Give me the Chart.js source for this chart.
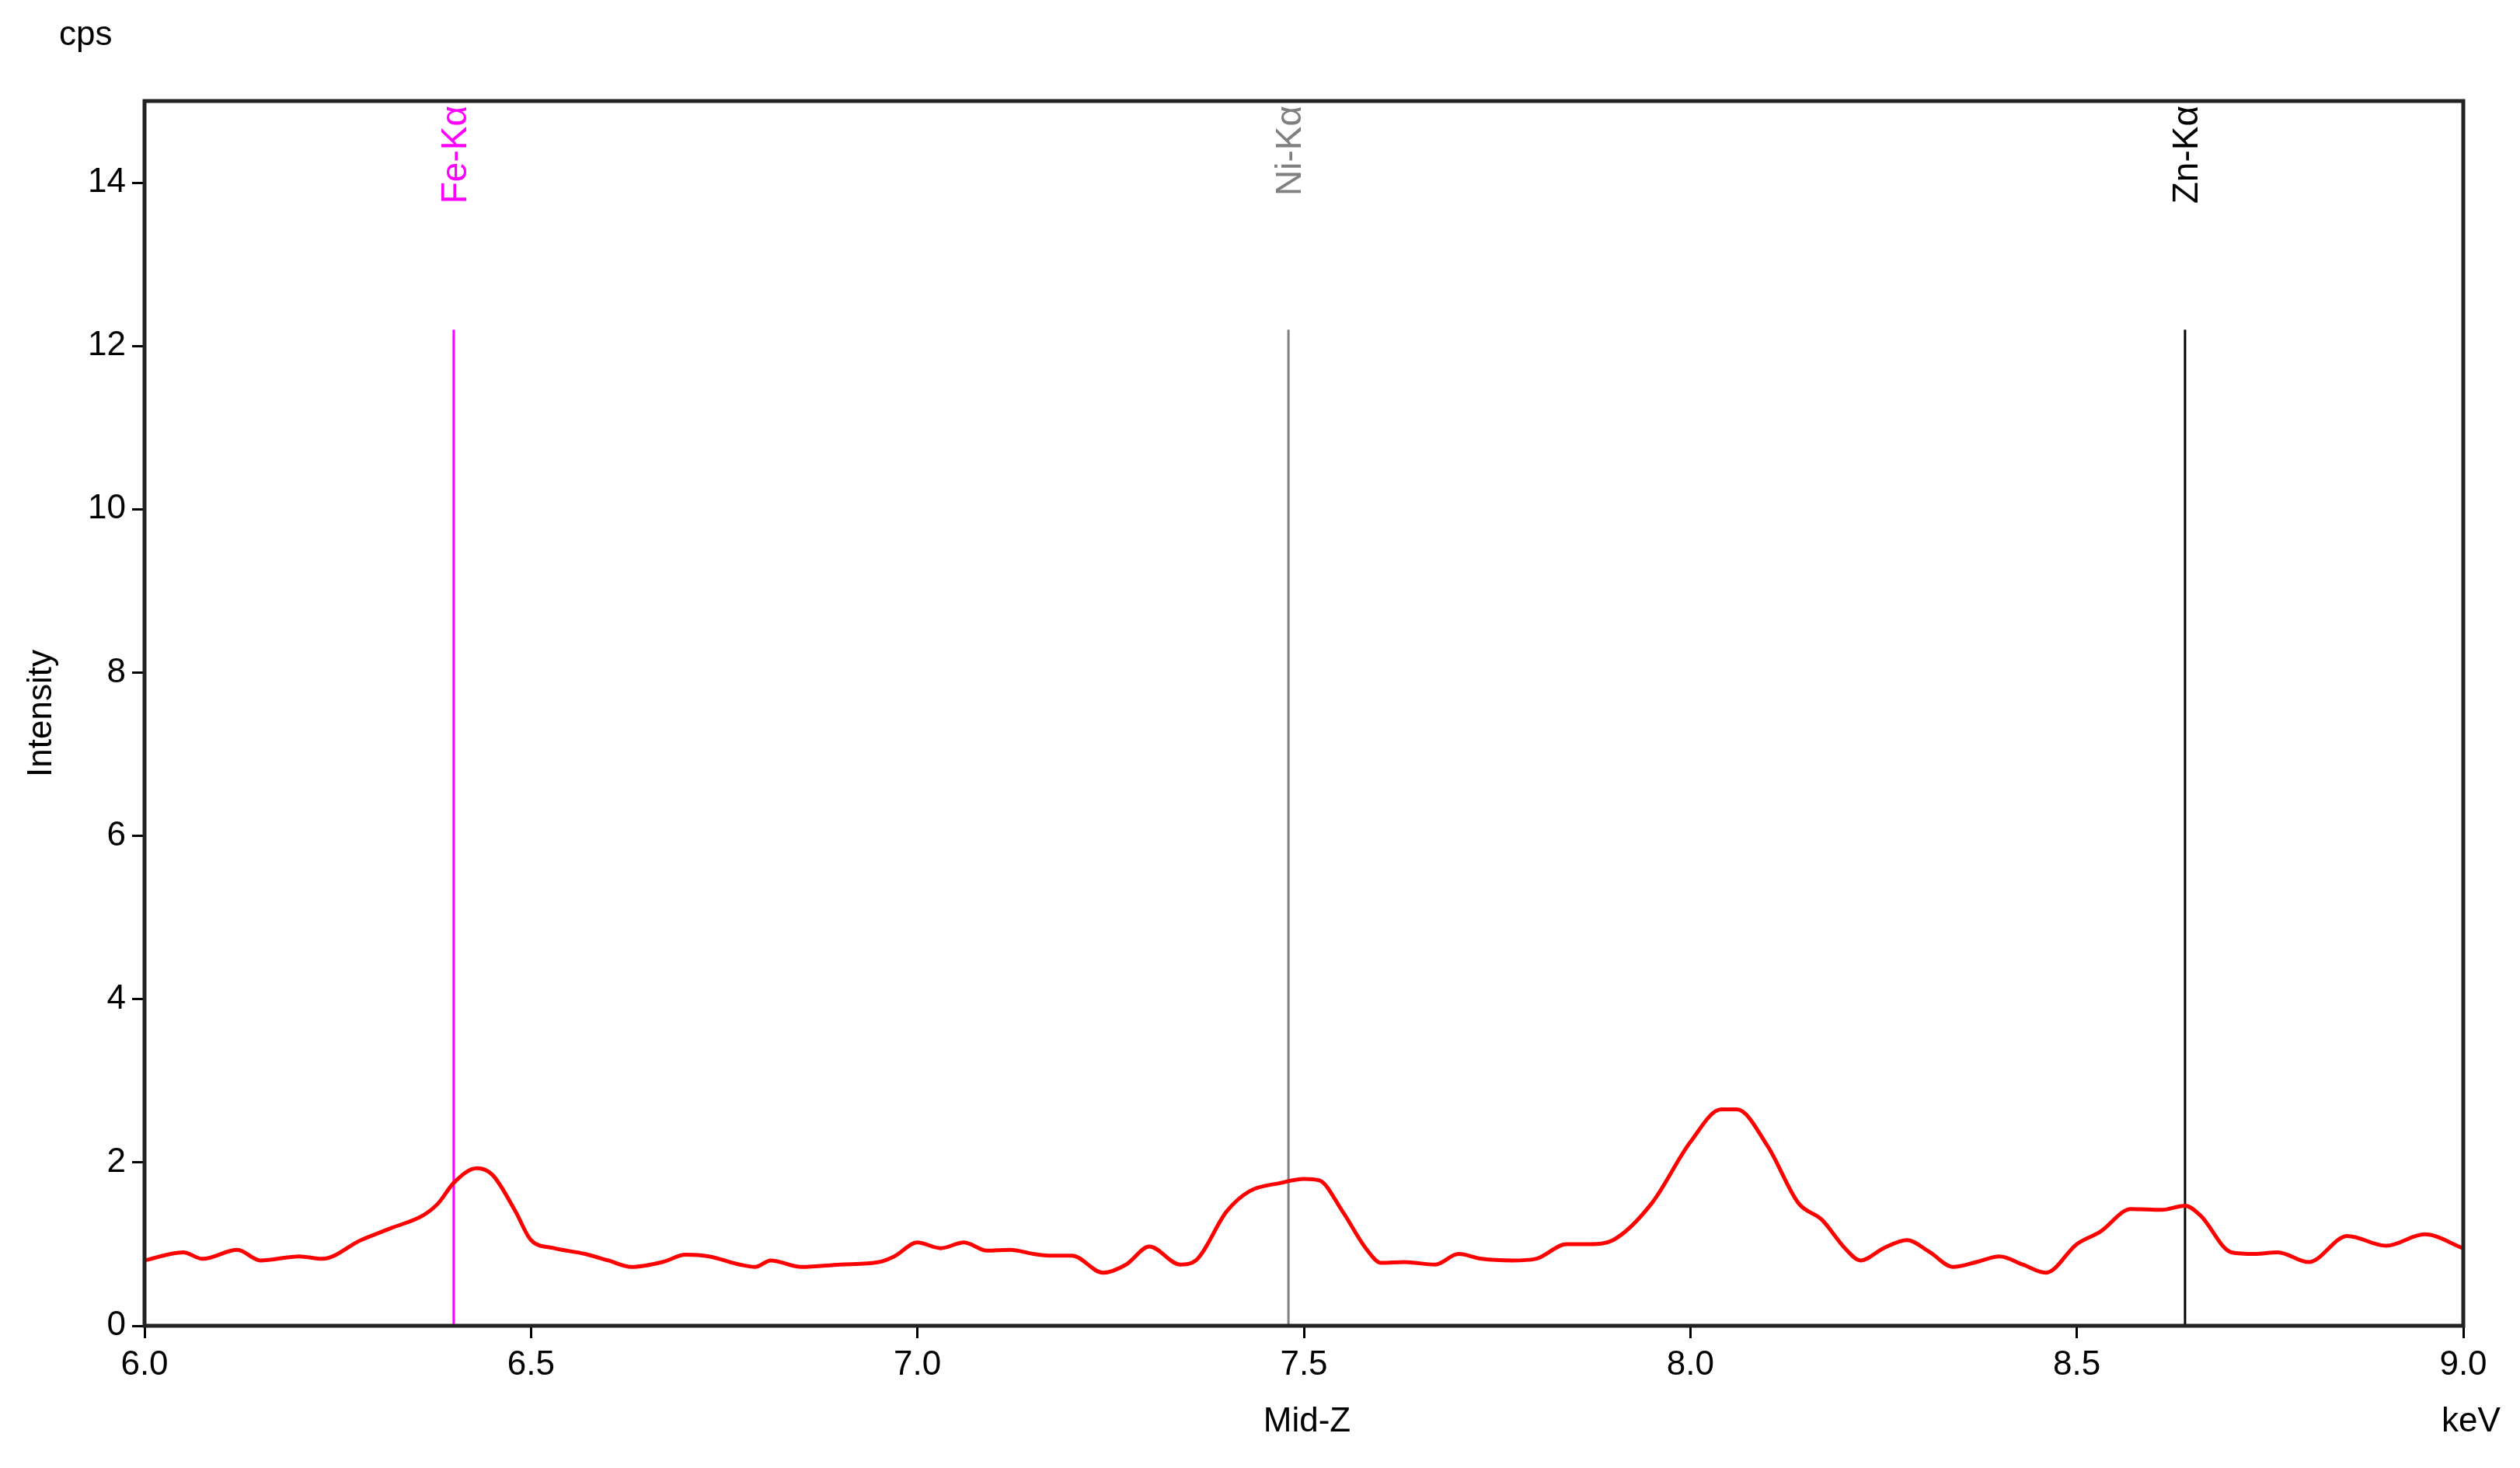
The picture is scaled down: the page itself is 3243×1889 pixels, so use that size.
<!DOCTYPE html>
<html>
<head>
<meta charset="utf-8">
<script src="https://cdn.jsdelivr.net/npm/chart.js@4"></script>
<style>
  body { margin: 0; background: #fff; }
  #wrap { width: 3243px; height: 1889px; }
</style>
</head>
<body>
<div id="wrap"><canvas id="spectrum"></canvas></div>
<script>
const energy = [6.00,6.05,6.075,6.12,6.15,6.20,6.23,6.28,6.32,6.36,6.38,6.40,6.43,6.45,6.48,6.50,6.53,6.57,6.60,6.63,6.67,6.70,6.73,6.77,6.79,6.81,6.85,6.90,6.95,6.97,7.00,7.03,7.06,7.09,7.12,7.15,7.17,7.20,7.24,7.27,7.30,7.34,7.36,7.40,7.43,7.47,7.50,7.52,7.55,7.58,7.60,7.63,7.67,7.70,7.73,7.77,7.80,7.84,7.87,7.90,7.95,8.00,8.04,8.06,8.10,8.14,8.17,8.20,8.22,8.25,8.28,8.31,8.34,8.37,8.40,8.43,8.46,8.50,8.53,8.57,8.61,8.64,8.66,8.70,8.73,8.76,8.80,8.85,8.90,8.95,9.00];
const counts = [0.80,0.90,0.82,0.93,0.80,0.85,0.82,1.05,1.20,1.35,1.50,1.75,1.93,1.85,1.40,1.05,0.95,0.88,0.80,0.72,0.78,0.87,0.85,0.75,0.72,0.80,0.72,0.75,0.78,0.85,1.02,0.95,1.02,0.92,0.93,0.88,0.86,0.86,0.65,0.75,0.97,0.75,0.80,1.40,1.65,1.75,1.80,1.78,1.40,0.95,0.77,0.78,0.75,0.88,0.82,0.80,0.82,1.00,1.00,1.05,1.50,2.25,2.65,2.65,2.20,1.50,1.30,0.95,0.80,0.95,1.05,0.90,0.72,0.78,0.85,0.75,0.65,1.00,1.15,1.43,1.42,1.47,1.35,0.90,0.88,0.90,0.78,1.10,0.98,1.12,0.95];

const lineNames = ['Fe-K\u03b1', 'Ni-K\u03b1', 'Zn-K\u03b1'];
const lineEnergies = [6.40, 7.48, 8.64];
const lineColors = ['#ff00ff', '#808080', '#000000'];
const lineTop = 12.2;

const xTicks = [6.0, 6.5, 7.0, 7.5, 8.0, 8.5, 9.0];
const yTicks = [0, 2, 4, 6, 8, 10, 12, 14];

const FONT = 'Liberation Sans, Arial, sans-serif';

const markerSets = lineEnergies.map((e, i) => ({
    label: lineNames[i],
    data: [{x: e, y: 0}, {x: e, y: lineTop}],
    borderColor: lineColors[i],
    borderWidth: 3,
    pointRadius: 0,
    tension: 0
}));

const decorations = {
    id: 'decorations',
    afterDatasetsDraw(chart) {
        const ctx = chart.ctx;
        const a = chart.chartArea;
        const x = chart.scales.x;
        ctx.save();
        ctx.strokeStyle = '#222';
        ctx.lineWidth = 5;
        ctx.strokeRect(a.left, a.top, a.right - a.left, a.bottom - a.top);
        ctx.font = '46px ' + FONT;
        lineEnergies.forEach((e, i) => {
            ctx.save();
            ctx.translate(x.getPixelForValue(e) + 16, a.top + 6);
            ctx.rotate(-Math.PI / 2);
            ctx.fillStyle = lineColors[i];
            ctx.textAlign = 'right';
            ctx.textBaseline = 'alphabetic';
            ctx.fillText(lineNames[i], 0, 0);
            ctx.restore();
        });
        ctx.font = '44px ' + FONT;
        ctx.fillStyle = '#000';
        ctx.textAlign = 'left';
        ctx.textBaseline = 'top';
        ctx.fillText('cps', 76, 24);
        ctx.textAlign = 'center';
        ctx.fillText('Mid-Z', (a.left + a.right) / 2 + 4, 1808);
        ctx.fillText('keV', 3180, 1808);
        ctx.save();
        ctx.translate(54, (a.top + a.bottom) / 2 + 0);
        ctx.rotate(-Math.PI / 2);
        ctx.textBaseline = 'middle';
        ctx.fillText('Intensity', 0, 0);
        ctx.restore();
        ctx.restore();
    }
};

new Chart(document.getElementById('spectrum'), {
    type: 'line',
    data: {
        datasets: [{
            label: 'Mid-Z',
            data: energy.map((e, i) => ({x: e, y: counts[i]})),
            borderColor: '#ff0000',
            borderWidth: 5,
            pointRadius: 0,
            cubicInterpolationMode: 'monotone'
        }].concat(markerSets)
    },
    options: {
        responsive: true,
        maintainAspectRatio: false,
        devicePixelRatio: 1,
        animation: false,
        layout: { padding: { left: 0, top: 130, right: 73, bottom: 0 } },
        plugins: { legend: { display: false }, tooltip: { enabled: false } },
        scales: {
            x: {
                type: 'linear', min: 6, max: 9,
                afterBuildTicks: s => { s.ticks = xTicks.map(v => ({value: v})); },
                afterFit: s => { s.height = 183; },
                border: { display: false },
                grid: { drawOnChartArea: false, color: '#000', lineWidth: 3, tickLength: 16 },
                ticks: { color: '#000', font: { family: FONT, size: 44 }, padding: 8,
                         callback: v => v.toFixed(1) }
            },
            y: {
                min: 0, max: 15,
                afterBuildTicks: s => { s.ticks = yTicks.map(v => ({value: v})); },
                afterFit: s => { s.width = 186; },
                border: { display: false },
                grid: { drawOnChartArea: false, color: '#000', lineWidth: 3, tickLength: 16 },
                ticks: { color: '#000', font: { family: FONT, size: 44 }, padding: 8 }
            }
        }
    },
    plugins: [decorations]
});
</script>
</body>
</html>
